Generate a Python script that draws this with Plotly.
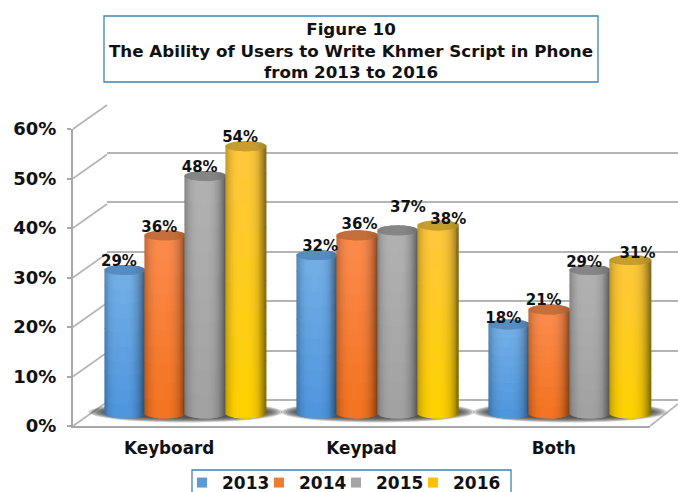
import math
import plotly.graph_objects as go

categories = ["Keyboard", "Keypad", "Both"]
years = ["2013", "2014", "2015", "2016"]
values_2013 = [29, 32, 18]
values_2014 = [36, 36, 21]
values_2015 = [48, 37, 29]
values_2016 = [54, 38, 31]
series_values = [values_2013, values_2014, values_2015, values_2016]
y_ticks = [0, 10, 20, 30, 40, 50, 60]

W, H = 678, 492
FONT = "DejaVu Sans"
TEXT = "#111111"
GRID = "#b4b4b4"
base_colors = ["#5b9bd5", "#ed7d31", "#a5a5a5", "#ffc000"]
top_colors = [(116, 176, 232), (252, 140, 78), (178, 178, 178), (254, 200, 62)]
bottom_colors = [(78, 150, 222), (244, 116, 32), (162, 162, 162), (255, 210, 0)]
cap_colors = [(88, 142, 196), (200, 112, 60), (134, 134, 134), (200, 160, 48)]

# pixel geometry of the pseudo-3D box
PX_PER_UNIT = 4.95
BASE_Y = 413.5
CAT_W = 192.2
BAR_W = 40.4
RY = 5.0
# manual label placement (px relative to top of the bar), as in the original
label_dx = [[-6, 3, -6], [-6, 2, -6], [-6, 10, -6], [-6, 10, 7]]
label_dy = [[-7.5, -8, -5.5], [-6.6, -10, -8.5], [-8, -22, -6.6], [-7.5, -5, -5.7]]


def fx(px):
    return px / W


def fy(px):
    return 1 - px / H


def mix(a, b, t):
    return tuple(a[i] + (b[i] - a[i]) * t for i in range(3))


def shade(c, t):
    # t in [-1, 1] across the cylinder: darker towards both edges
    f = 1.0 - 0.36 * abs(t + 0.1) ** 3.2
    return "rgb(%d,%d,%d)" % tuple(min(255, c[i] * f) for i in range(3))


fig = go.Figure()

# subplot carriers so every axis pair exists
fig.add_trace(go.Scatter(x=[None], y=[None], xaxis="x", yaxis="y", showlegend=False, hoverinfo="skip"))
fig.add_trace(go.Scatter(x=[None], y=[None], xaxis="x2", yaxis="y2", showlegend=False, hoverinfo="skip"))

N_STRIPS = 42
N_SEG = 10
strip_w = BAR_W / N_STRIPS / CAT_W
ry_u = RY / PX_PER_UNIT

for s, vals in enumerate(series_values):
    xs, bases, hs, cols, cx, cb, ch, cc = [], [], [], [], [], [], [], []
    for c, v in enumerate(vals):
        center = c + (s - 1.5) * BAR_W / CAT_W
        for k in range(N_STRIPS):
            t = -1 + 2 * (k + 0.5) / N_STRIPS
            sq = math.sqrt(max(0, 1 - t * t))
            x = center + t * BAR_W / 2 / CAT_W
            for m in range(N_SEG):
                xs.append(x)
                bases.append(v * m / N_SEG - ry_u * sq)
                hs.append(v / N_SEG * 1.03)
                cols.append(shade(mix(top_colors[s], bottom_colors[s], 1 - (m + 0.5) / N_SEG), t))
            cx.append(x)
            cb.append(v - ry_u * sq)
            ch.append(2 * ry_u * sq)
            cc.append(shade(cap_colors[s], t * 0.7))
    fig.add_trace(go.Bar(x=xs, y=hs, base=bases, width=strip_w * 1.35, marker=dict(color=cols, line=dict(width=0)),
                         xaxis="x3", yaxis="y3", showlegend=False, hoverinfo="skip"))
    fig.add_trace(go.Bar(x=cx, y=ch, base=cb, width=strip_w * 1.35, marker=dict(color=cc, line=dict(width=0)),
                         xaxis="x3", yaxis="y3", showlegend=False, hoverinfo="skip"))

for s, vals in enumerate(series_values):
    fig.add_trace(go.Scatter(
        x=[c + (s - 1.5) * BAR_W / CAT_W + label_dx[s][c] / CAT_W for c in range(3)],
        y=[v - label_dy[s][c] / PX_PER_UNIT for c, v in enumerate(vals)],
        text=[f"{v}%" for v in vals], mode="text", textposition="middle center",
        textfont=dict(family=FONT, size=15, color=TEXT, weight="bold"),
        xaxis="x3", yaxis="y3", showlegend=False, hoverinfo="skip"))

for s, y in enumerate(years):
    fig.add_trace(go.Scatter(x=[None], y=[None], name=y, mode="markers", xaxis="x3", yaxis="y3",
                             marker=dict(symbol="square", size=10, color=base_colors[s])))
# blank entry: keeps the last legend label from being clipped by the legend's own width
fig.add_trace(go.Scatter(x=[None], y=[None], name=" ", mode="markers", xaxis="x3", yaxis="y3",
                         marker=dict(symbol="square", size=1, color="rgba(0,0,0,0)")))

shapes = []
# title box
shapes.append(dict(type="rect", xref="paper", yref="paper", x0=fx(104), x1=fx(598), y0=fy(16), y1=fy(82),
                   line=dict(color="#3f83b5", width=1.3), fillcolor="white", layer="below"))
# legend box
shapes.append(dict(type="rect", xref="paper", yref="paper", x0=fx(192), x1=fx(511), y0=fy(470), y1=fy(497),
                   line=dict(color="#3f83b5", width=1.3), fillcolor="white", layer="below"))
# side-wall diagonals
for v in y_ticks:
    py = 426 - v * PX_PER_UNIT
    shapes.append(dict(type="line", xref="paper", yref="paper", x0=fx(73), y0=fy(py), x1=fx(107), y1=fy(py - 24),
                       line=dict(color=GRID, width=1.6), layer="below"))
# floor right edge
shapes.append(dict(type="line", xref="paper", yref="paper", x0=fx(650), y0=fy(426), x1=fx(678), y1=fy(404),
                   line=dict(color=GRID, width=1.6), layer="below"))
# floor shadows
for c in range(3):
    cxp = 185.5 + c * CAT_W
    for i in range(8):
        hw = 97 - i * 2.5
        hh = 10.5 - i * 0.7
        shapes.append(dict(type="circle", xref="paper", yref="paper",
                           x0=fx(cxp - hw), x1=fx(cxp + hw), y0=fy(412 + hh), y1=fy(412 - hh),
                           fillcolor="rgba(50,50,50,0.2)", line=dict(width=0), layer="below"))

fig.update_layout(
    width=W, height=H, margin=dict(l=0, r=0, t=0, b=0, autoexpand=False), autosize=False,
    paper_bgcolor="white", plot_bgcolor="rgba(0,0,0,0)", barmode="overlay", shapes=shapes,
    font=dict(family=FONT, color=TEXT),
    title=dict(text="Figure 10<br>The Ability of Users to Write Khmer Script in Phone<br>from 2013 to 2016",
               x=351 / W, xanchor="center", y=fy(35), yanchor="middle",
               font=dict(family=FONT, size=16.7, color=TEXT, weight="bold")),
    # back wall
    xaxis=dict(domain=[fx(107), 1], range=[0, 1], visible=False, fixedrange=True),
    yaxis=dict(domain=[fy(400), fy(103)], range=[0, 60], anchor="x", dtick=10, showgrid=True, gridcolor=GRID,
               gridwidth=1.6, zeroline=True, zerolinecolor=GRID, zerolinewidth=1.6, showticklabels=False, ticks="",
               showline=False),
    # front axes
    xaxis2=dict(domain=[fx(73), fx(650)], range=[-0.5, 2.5], anchor="y2", tickmode="array", tickvals=[0, 1, 2],
                ticktext=categories, ticks="", showgrid=False, zeroline=False, showline=True,
                linecolor="#a8a8a8", linewidth=2, ticklabelstandoff=6,
                tickfont=dict(family=FONT, size=16.8, color=TEXT, weight="bold")),
    yaxis2=dict(domain=[fy(426), fy(129)], range=[0, 60], anchor="x2", tickmode="array", tickvals=y_ticks,
                ticktext=[f"{v}%" for v in y_ticks], ticks="outside", ticklen=4, tickcolor="#a8a8a8", tickwidth=1.5,
                showgrid=False, zeroline=False, showline=True, linecolor="#a8a8a8", linewidth=2, ticklabelstandoff=7,
                tickfont=dict(family=FONT, size=18, color=TEXT, weight="bold")),
    # bars
    xaxis3=dict(domain=[fx(185.5 - CAT_W / 2), fx(185.5 + 2.5 * CAT_W)], range=[-0.5, 2.5], anchor="y3", visible=False),
    yaxis3=dict(domain=[fy(BASE_Y + 5 * PX_PER_UNIT), fy(BASE_Y - 62 * PX_PER_UNIT)], range=[-5, 62], anchor="x3",
                visible=False),
    legend=dict(orientation="h", x=fx(182), xanchor="left", y=fy(465), yanchor="top", bgcolor="rgba(0,0,0,0)",
                borderwidth=0, font=dict(family=FONT, size=17, color=TEXT, weight="bold"),
                itemwidth=30, entrywidth=32, entrywidthmode="pixels", itemclick=False, itemdoubleclick=False,
                tracegroupgap=0),
)

fig.write_html("out.html", config=dict(displayModeBar=False),
               post_script="document.body.style.margin='0';document.body.style.overflow='hidden';")
